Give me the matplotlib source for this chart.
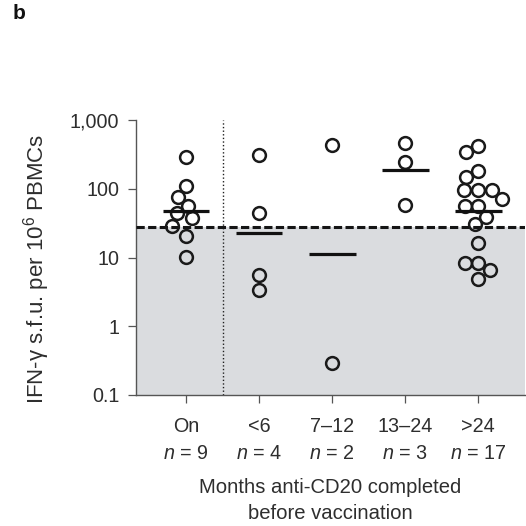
import numpy as np
import matplotlib
matplotlib.use("Agg")
import matplotlib.pyplot as plt

plt.rcParams['font.family'] = ['Liberation Sans', 'DejaVu Sans']
plt.rcParams['mathtext.fontset'] = 'custom'
plt.rcParams['mathtext.rm'] = 'Liberation Sans'
plt.rcParams['mathtext.it'] = 'Liberation Sans:italic'

# IFN-gamma spot-forming units per 10^6 PBMCs, by time since anti-CD20 therapy
groups = ["On", "<6", "7\u201312", "13\u201324", ">24"]
on_vals = [286, 109, 76, 57, 44, 37, 29, 20.5, 10.2]
lt6_vals = [310, 44, 5.5, 3.4]
m7_12_vals = [433, 0.29]
m13_24_vals = [457, 247, 58]
gt24_vals = [419, 346, 183, 150, 96, 96, 96, 72, 56, 56, 39, 31, 16, 8.2, 8.2, 6.6, 4.9]
threshold = 28
yticks = [0.1, 1, 10, 100, 1000]
ytick_labels = ["0.1", "1", "10", "100", "1,000"]

series = [on_vals, lt6_vals, m7_12_vals, m13_24_vals, gt24_vals]

txt = '#2e2e2e'
W = H = 526
fig = plt.figure(figsize=(W / 100, H / 100), dpi=100)
ax = fig.add_axes([136 / W, (H - 395) / H, (525 - 136) / W, (395 - 120) / H])
ax.set_yscale('log')
ax.set_ylim(0.1, 1000)
ax.set_xlim(-0.685, 4.64)

# shaded region below the positivity threshold
ax.axhspan(0.1, threshold, color='#dadcdf', lw=0, zorder=0)
ax.axhline(threshold, color='#151515', lw=2.2, ls=(0, (2.7, 1.1)), zorder=3)
ax.axvline(0.5, color='#202020', lw=1.0, ls=(0, (1, 1.6)), zorder=2)


def swarm_offsets(ypix, d):
    order = np.argsort(ypix)[::-1]
    placed = []
    offs = np.zeros(len(ypix))
    for i in order:
        y = ypix[i]
        cands = [0.0]
        for px, py in placed:
            dy = abs(py - y)
            if dy < d:
                dx = np.sqrt(d * d - dy * dy)
                cands += [px - dx, px + dx]
        cands.sort(key=lambda c: (abs(c), c))
        for c in cands:
            if all((c - px) ** 2 + (y - py) ** 2 >= d * d - 1e-6 for px, py in placed):
                offs[i] = c
                placed.append((c, y))
                break
    return offs


px_per_unit = ax.transData.transform((1, 1))[0] - ax.transData.transform((0, 1))[0]
diam = 13.5
for i, vals in enumerate(series):
    v = np.asarray(vals, dtype=float)
    ypix = ax.transData.transform(np.column_stack([np.full(len(v), i), v]))[:, 1]
    xs = i + swarm_offsets(ypix, diam) / px_per_unit
    ax.plot(xs, v, 'o', mfc='none', mec='#1a1a1a', ms=9.2, mew=1.8, zorder=4, clip_on=False)
    gm = np.exp(np.mean(np.log(v)))
    ax.hlines(gm, i - 0.32, i + 0.32, color='#111111', lw=2.3, zorder=5)

ax.set_yticks(yticks)
ax.set_yticklabels(ytick_labels)
ax.yaxis.set_minor_locator(matplotlib.ticker.NullLocator())
ax.set_xticks(range(len(groups)))
ax.set_xticklabels([f"{g}\n$n$ = {len(s)}" for g, s in zip(groups, series)],
                   linespacing=1.5)

for s in ['top', 'right']:
    ax.spines[s].set_visible(False)
for s in ['left', 'bottom']:
    ax.spines[s].set_color('#555555')
    ax.spines[s].set_linewidth(1.0)
ax.tick_params(axis='both', direction='out', length=6, width=0.9, color='#555555',
               labelsize=14.2, labelcolor=txt)
ax.tick_params(axis='y', pad=6)
ax.tick_params(axis='x', pad=10)

ax.set_ylabel("IFN-\u03b3 s.f.u. per 10$^{6}$ PBMCs", fontsize=16, color=txt)
ax.yaxis.set_label_coords(-0.215, 0.458)
ax.set_xlabel("Months anti-CD20 completed\nbefore vaccination", fontsize=14.6,
              color=txt, linespacing=1.45, labelpad=11)

fig.text(13 / W, 1 - 4 / H, "b", fontsize=15, fontweight='bold', color='#111111',
         ha='left', va='top')

fig.savefig("out.png", dpi=100)
